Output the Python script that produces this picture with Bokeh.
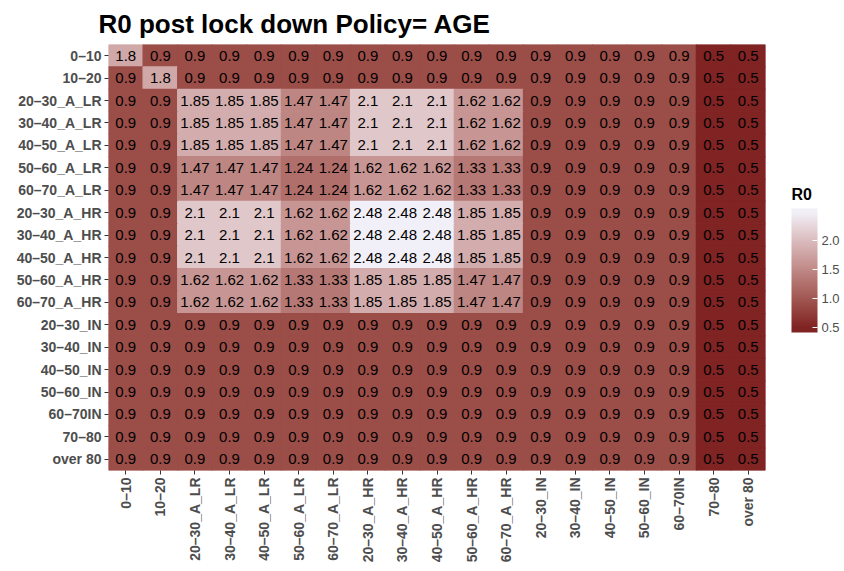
import math
from bokeh.plotting import figure
from bokeh.models import (ColumnDataSource, LinearColorMapper, ColorBar, FixedTicker,
                          FactorRange, PrintfTickFormatter)
from bokeh.transform import transform
from bokeh.core.properties import value
from bokeh.embed import file_html
from bokeh.resources import INLINE

groups = ["0–10", "10–20", "20–30_A_LR", "30–40_A_LR", "40–50_A_LR", "50–60_A_LR",
          "60–70_A_LR", "20–30_A_HR", "30–40_A_HR", "40–50_A_HR", "50–60_A_HR",
          "60–70_A_HR", "20–30_IN", "30–40_IN", "40–50_IN", "50–60_IN", "60–70IN",
          "70–80", "over 80"]

r0 = [
    [1.8, 0.9, 0.9, 0.9, 0.9, 0.9, 0.9, 0.9, 0.9, 0.9, 0.9, 0.9, 0.9, 0.9, 0.9, 0.9, 0.9, 0.5, 0.5],
    [0.9, 1.8, 0.9, 0.9, 0.9, 0.9, 0.9, 0.9, 0.9, 0.9, 0.9, 0.9, 0.9, 0.9, 0.9, 0.9, 0.9, 0.5, 0.5],
    [0.9, 0.9, 1.85, 1.85, 1.85, 1.47, 1.47, 2.1, 2.1, 2.1, 1.62, 1.62, 0.9, 0.9, 0.9, 0.9, 0.9, 0.5, 0.5],
    [0.9, 0.9, 1.85, 1.85, 1.85, 1.47, 1.47, 2.1, 2.1, 2.1, 1.62, 1.62, 0.9, 0.9, 0.9, 0.9, 0.9, 0.5, 0.5],
    [0.9, 0.9, 1.85, 1.85, 1.85, 1.47, 1.47, 2.1, 2.1, 2.1, 1.62, 1.62, 0.9, 0.9, 0.9, 0.9, 0.9, 0.5, 0.5],
    [0.9, 0.9, 1.47, 1.47, 1.47, 1.24, 1.24, 1.62, 1.62, 1.62, 1.33, 1.33, 0.9, 0.9, 0.9, 0.9, 0.9, 0.5, 0.5],
    [0.9, 0.9, 1.47, 1.47, 1.47, 1.24, 1.24, 1.62, 1.62, 1.62, 1.33, 1.33, 0.9, 0.9, 0.9, 0.9, 0.9, 0.5, 0.5],
    [0.9, 0.9, 2.1, 2.1, 2.1, 1.62, 1.62, 2.48, 2.48, 2.48, 1.85, 1.85, 0.9, 0.9, 0.9, 0.9, 0.9, 0.5, 0.5],
    [0.9, 0.9, 2.1, 2.1, 2.1, 1.62, 1.62, 2.48, 2.48, 2.48, 1.85, 1.85, 0.9, 0.9, 0.9, 0.9, 0.9, 0.5, 0.5],
    [0.9, 0.9, 2.1, 2.1, 2.1, 1.62, 1.62, 2.48, 2.48, 2.48, 1.85, 1.85, 0.9, 0.9, 0.9, 0.9, 0.9, 0.5, 0.5],
    [0.9, 0.9, 1.62, 1.62, 1.62, 1.33, 1.33, 1.85, 1.85, 1.85, 1.47, 1.47, 0.9, 0.9, 0.9, 0.9, 0.9, 0.5, 0.5],
    [0.9, 0.9, 1.62, 1.62, 1.62, 1.33, 1.33, 1.85, 1.85, 1.85, 1.47, 1.47, 0.9, 0.9, 0.9, 0.9, 0.9, 0.5, 0.5],
    [0.9, 0.9, 0.9, 0.9, 0.9, 0.9, 0.9, 0.9, 0.9, 0.9, 0.9, 0.9, 0.9, 0.9, 0.9, 0.9, 0.9, 0.5, 0.5],
    [0.9, 0.9, 0.9, 0.9, 0.9, 0.9, 0.9, 0.9, 0.9, 0.9, 0.9, 0.9, 0.9, 0.9, 0.9, 0.9, 0.9, 0.5, 0.5],
    [0.9, 0.9, 0.9, 0.9, 0.9, 0.9, 0.9, 0.9, 0.9, 0.9, 0.9, 0.9, 0.9, 0.9, 0.9, 0.9, 0.9, 0.5, 0.5],
    [0.9, 0.9, 0.9, 0.9, 0.9, 0.9, 0.9, 0.9, 0.9, 0.9, 0.9, 0.9, 0.9, 0.9, 0.9, 0.9, 0.9, 0.5, 0.5],
    [0.9, 0.9, 0.9, 0.9, 0.9, 0.9, 0.9, 0.9, 0.9, 0.9, 0.9, 0.9, 0.9, 0.9, 0.9, 0.9, 0.9, 0.5, 0.5],
    [0.9, 0.9, 0.9, 0.9, 0.9, 0.9, 0.9, 0.9, 0.9, 0.9, 0.9, 0.9, 0.9, 0.9, 0.9, 0.9, 0.9, 0.5, 0.5],
    [0.9, 0.9, 0.9, 0.9, 0.9, 0.9, 0.9, 0.9, 0.9, 0.9, 0.9, 0.9, 0.9, 0.9, 0.9, 0.9, 0.9, 0.5, 0.5],
]

legend_ticks = [0.5, 1.0, 1.5, 2.0]
legend_title = "R0"
low_color = "#802323"
high_color = "#F1EFF7"
FONT = "Liberation Sans"


# --- Lab interpolation of the gradient (like ggplot's scale_fill_gradient) ---
def hex_to_rgb(h):
    h = h.lstrip("#")
    return [int(h[i:i + 2], 16) / 255 for i in (0, 2, 4)]


def srgb_to_lin(c):
    return c / 12.92 if c <= 0.04045 else ((c + 0.055) / 1.055) ** 2.4


def lin_to_srgb(c):
    c = max(0.0, min(1.0, c))
    return 12.92 * c if c <= 0.0031308 else 1.055 * c ** (1 / 2.4) - 0.055


WX, WY, WZ = 0.95047, 1.0, 1.08883


def f(t):
    return t ** (1 / 3) if t > 0.008856 else 7.787 * t + 16 / 116


def finv(t):
    return t ** 3 if t ** 3 > 0.008856 else (t - 16 / 116) / 7.787


def to_lab(h):
    r, g, b = [srgb_to_lin(c) for c in hex_to_rgb(h)]
    X = 0.4124 * r + 0.3576 * g + 0.1805 * b
    Y = 0.2126 * r + 0.7152 * g + 0.0722 * b
    Z = 0.0193 * r + 0.1192 * g + 0.9505 * b
    fx, fy, fz = f(X / WX), f(Y / WY), f(Z / WZ)
    return 116 * fy - 16, 500 * (fx - fy), 200 * (fy - fz)


def from_lab(L, a, b):
    fy = (L + 16) / 116
    fx = fy + a / 500
    fz = fy - b / 200
    X, Y, Z = WX * finv(fx), WY * finv(fy), WZ * finv(fz)
    r = 3.2406 * X - 1.5372 * Y - 0.4986 * Z
    g = -0.9689 * X + 1.8758 * Y + 0.0415 * Z
    bb = 0.0557 * X - 0.2040 * Y + 1.0570 * Z
    return "#%02x%02x%02x" % tuple(int(round(lin_to_srgb(c) * 255)) for c in (r, g, bb))


la, lb = to_lab(low_color), to_lab(high_color)


def color_at(t):
    t = max(0.0, min(1.0, t))
    return from_lab(*[la[k] + (lb[k] - la[k]) * t for k in range(3)])


vals = [v for row in r0 for v in row]
vmin, vmax = min(vals), max(vals)
palette = [color_at(i / 255) for i in range(256)]
mapper = LinearColorMapper(palette=palette, low=vmin, high=vmax)

# colour bar drawn slightly beyond the data limits, as ggplot does
cb_low, cb_high = vmin - 0.085, vmax + 0.07
cb_palette = [color_at((cb_low + (cb_high - cb_low) * i / 255 - vmin) / (vmax - vmin))
              for i in range(256)]
cb_mapper = LinearColorMapper(palette=cb_palette, low=cb_low, high=cb_high)

xs, ys, vs, labels = [], [], [], []
for i, rg in enumerate(groups):
    for j, cg in enumerate(groups):
        xs.append(cg)
        ys.append(rg)
        vs.append(r0[i][j])
        labels.append(format(r0[i][j], "g"))
src = ColumnDataSource(dict(x=xs, y=ys, v=vs, label=labels))

p = figure(x_range=FactorRange(*groups, range_padding=0),
           y_range=FactorRange(*list(reversed(groups)), range_padding=0),
           frame_width=657, frame_height=426,
           output_backend="svg", toolbar_location=None,
           min_border_left=108, min_border_top=0, min_border_bottom=4, min_border_right=79,
           title="R0 post lock down Policy= AGE")
p.border_fill_color = "white"

p.rect(x="x", y="y", width=1, height=1, source=src,
       fill_color=transform("v", mapper), line_color=transform("v", mapper), line_width=1.2)
p.text(x="x", y="y", text="label", source=src, text_align="center",
       text_baseline="middle", text_font=value(FONT), text_font_size="15px",
       text_color="black")

p.title.text_font = FONT
p.title.text_font_size = "26px"
p.title.text_font_style = "bold"
p.title.text_color = "black"
p.title.offset = -10
p.title.standoff = 12

for ax in (p.xaxis[0], p.yaxis[0]):
    ax.axis_line_color = None
    ax.major_tick_line_color = "#333333"
    ax.major_tick_out = 4
    ax.major_tick_in = 0
    ax.minor_tick_line_color = None
    ax.major_label_text_font = FONT
    ax.major_label_text_font_style = "bold"
    ax.major_label_text_font_size = "14px"
    ax.major_label_text_color = "#4D4D4D"
    ax.major_label_standoff = 3

p.xaxis[0].major_label_orientation = math.pi / 2
p.grid.grid_line_color = None
p.outline_line_color = None
p.background_fill_color = "white"

cb = ColorBar(color_mapper=cb_mapper, ticker=FixedTicker(ticks=legend_ticks),
              formatter=PrintfTickFormatter(format="%.1f"),
              width=26, height=124, location=(679, 134),
              major_label_text_font=FONT, major_label_text_font_size="13px",
              major_label_text_color="#4D4D4D",
              major_tick_line_color="white", major_tick_in=5, major_tick_out=0,
              bar_line_color=None, border_line_color=None, background_fill_color=None,
              padding=4, margin=0, label_standoff=4)
p.add_layout(cb, "center")

# legend title: a horizontal colour bar with an invisible bar carries the title text
title_bar = ColorBar(color_mapper=cb_mapper, ticker=FixedTicker(ticks=[]),
                     orientation="horizontal", width=26, height=1, scale_alpha=0,
                     location=(683, 267), padding=0, margin=0,
                     title=legend_title, title_text_font=FONT, title_text_font_size="16px",
                     title_text_font_style="bold", title_text_color="black",
                     title_standoff=0, major_label_text_alpha=0,
                     major_tick_line_color=None, minor_tick_line_color=None,
                     bar_line_color=None, border_line_color=None,
                     background_fill_color=None)
p.add_layout(title_bar, "center")

open("out.html", "w").write(file_html(p, INLINE))
